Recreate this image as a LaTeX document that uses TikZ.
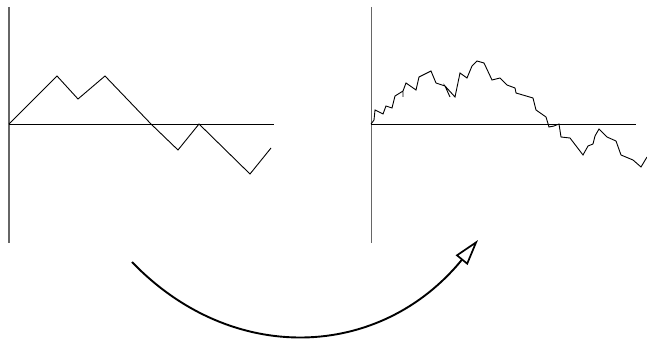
\documentclass[tikz,border=0pt]{standalone}
\usetikzlibrary{arrows.meta}
\begin{document}
\begin{tikzpicture}[x=1pt,y=-1pt,
  axisline/.style={draw=gray!80!black,line width=1pt},
  walk/.style={draw=black,line width=0.9pt,line join=miter},
  bigarrow/.style={draw=black,line width=1.9pt,-{Triangle[open,length=26pt,width=15pt,line width=1.7pt]}}]
\useasboundingbox (0,0) rectangle (647,342);
% left panel
\draw[axisline,line width=1.4pt] (9,7) -- (9,243);
\draw[black,line width=0.9pt] (9,124) -- (274,124);
\draw[walk] (9,124) -- (57,76) -- (78,99) -- (105,76) -- (151,124) -- (178,150) -- (199,124) -- (250,174) -- (271,148);
% right panel
\draw[axisline] (371,7) -- (371,243);
\draw[black,line width=0.9pt] (371,124) -- (636,124);
\draw[walk] (371,124) -- (374,120) -- (375,110) -- (383,114) -- (386,106) -- (392,108) -- (395,96) -- (403,91) -- (403,97) -- (403,91) -- (406,83) -- (416,90) -- (419,77) -- (431,71) -- (436,83) -- (445,86) -- (450,97) -- (445,86) -- (455,97) -- (460,73) -- (467,78) -- (472,66) -- (477,61) -- (484,63) -- (492,80) -- (500,78) -- (507,85) -- (515,88) -- (516,93) -- (533,98) -- (536,110) -- (546,117) -- (549,127) -- (554,126) -- (559,124) -- (561,137) -- (570,138) -- (583,155) -- (588,146) -- (593,144) -- (595,136) -- (599,129) -- (607,137) -- (616,141) -- (621,155) -- (633,160) -- (641,167) -- (647,157);
% curved arrow
\coordinate (s) at (132,262);
\coordinate (e) at (478,240);
\draw[bigarrow] (s) .. controls (232,366) and (380,360) .. (e);
\end{tikzpicture}
\end{document}
